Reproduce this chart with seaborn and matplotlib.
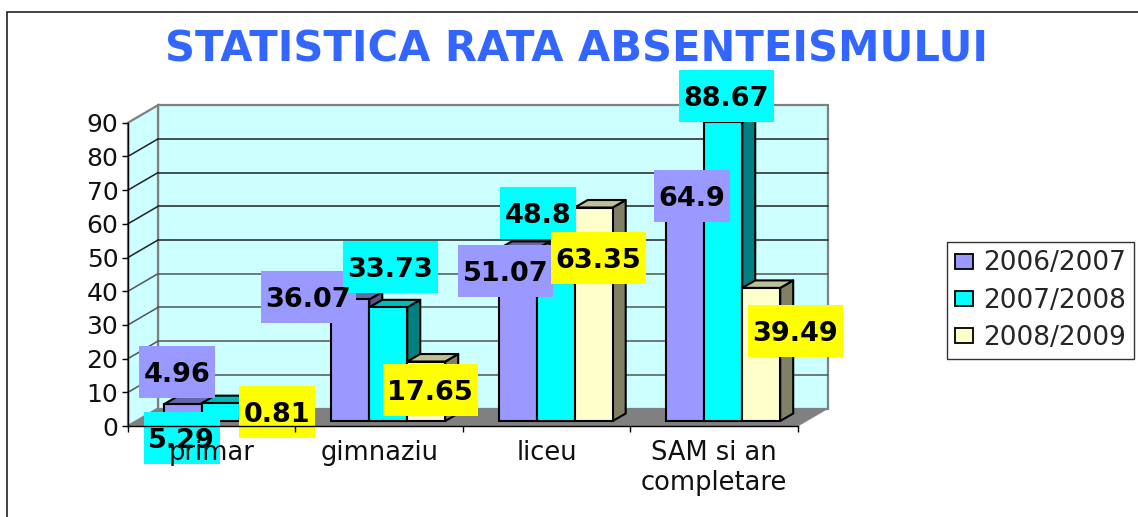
import matplotlib
matplotlib.use("Agg")
import matplotlib.pyplot as plt
from matplotlib.patches import Polygon, Rectangle
from matplotlib.transforms import IdentityTransform
import pandas as pd
import seaborn as sns

categories = ["primar", "gimnaziu", "liceu", "SAM si an\ncompletare"]
years = ["2006/2007", "2007/2008", "2008/2009"]
v_2006 = [4.96, 36.07, 51.07, 64.9]
v_2007 = [5.29, 33.73, 48.8, 88.67]
v_2008 = [0.81, 17.65, 63.35, 39.49]
title = "STATISTICA RATA ABSENTEISMULUI"

W, H = 1138, 517
faces = ["#9999FF", "#00FFFF", "#FFFFCC"]
tops = ["#6666AA", "#00BBBB", "#BFBF99"]
sides = ["#55558A", "#008080", "#808066"]
label_faces = ["#9999FF", "#00FFFF", "#FFFF00"]
# label centre offset from the bar's top centre, in pixels (right, up)
label_shift = [
    [(-6, 32), (-42, 2), (-12, -22), (7, 6)],
    [(-39, -35), (2, 40), (-18, 44), (3, 26)],
    [(18, 6), (4, -28), (5, -50), (34, -43)],
]

sns.set_style("white")
plt.rcParams["font.family"] = ["DejaVu Sans"]

fig = plt.figure(figsize=(W / 100, H / 100), dpi=100)
left, right, y_bot, y_top = 128, 798, 426, 122.7
ax = fig.add_axes([left / W, 1 - y_bot / H, (right - left) / W, (y_bot - y_top) / H])

df = pd.DataFrame({
    "cat": categories * 3,
    "year": [y for y in years for _ in categories],
    "val": v_2006 + v_2007 + v_2008,
})
sns.barplot(data=df, x="cat", y="val", hue="year", palette=faces, saturation=1,
            width=0.68, gap=0, edgecolor="black", linewidth=1.5, ax=ax, zorder=20)
ax.set_xlim(-0.5, 3.5)
ax.set_ylim(0, 90)
ax.set_xlabel("")
ax.set_ylabel("")

ux = (right - left) / 4      # pixels per category
uy = (y_bot - y_top) / 90    # pixels per value unit
wall_dx, wall_dy = 30 / ux, 17.5 / uy
bar_dx, bar_dy = 9 / ux, 5 / uy
deep_dx, deep_dy = 13 / ux, 7.5 / uy

x0, x1 = -0.5, 3.5
wall = "#CCFFFF"
grey = "#808080"
# walls and floor
ax.add_patch(Polygon([(x0 + wall_dx, wall_dy), (x1 + wall_dx, wall_dy),
                      (x1 + wall_dx, 90 + wall_dy), (x0 + wall_dx, 90 + wall_dy)],
                     fc=wall, ec=grey, lw=1.6, clip_on=False, zorder=1))
ax.add_patch(Polygon([(x0, 0), (x0 + wall_dx, wall_dy), (x0 + wall_dx, 90 + wall_dy), (x0, 90)],
                     fc=wall, ec=grey, lw=1.6, clip_on=False, zorder=1))
for v in range(10, 90, 10):
    c = "#222222" if v >= 50 else "#555555"
    ax.plot([x0 + wall_dx, x1 + wall_dx], [v + wall_dy] * 2, color=c, lw=1.1, clip_on=False, zorder=2)
    ax.plot([x0, x0 + wall_dx], [v, v + wall_dy], color=c, lw=1.1, clip_on=False, zorder=2)
ax.add_patch(Polygon([(x0, 0), (x1, 0), (x1 + wall_dx, wall_dy), (x0 + wall_dx, wall_dy)],
                     fc=grey, ec=grey, lw=0.5, clip_on=False, zorder=3))

# 3D bars: seaborn's bars, moved onto the floor, plus their top and side
for c in range(len(categories)):
    for h in range(len(years)):
        z = 10 + c * 10 + h * 3
        bar = ax.containers[h][c]
        bar.set_clip_on(False)
        bx = bar.get_x() + bar_dx
        bw = bar.get_width()
        bh = bar.get_height()
        bar.set_x(bx)
        bar.set_y(bar_dy)
        bar.set_zorder(z + 2)
        ex = bx + bw
        ty = bh + bar_dy
        ax.add_patch(Polygon([(ex, bar_dy), (ex + deep_dx, bar_dy + deep_dy),
                              (ex + deep_dx, ty + deep_dy), (ex, ty)],
                             fc=sides[h], ec="black", lw=1.5, clip_on=False, zorder=z, joinstyle="round"))
        ax.add_patch(Polygon([(bx, ty), (ex, ty), (ex + deep_dx, ty + deep_dy), (bx + deep_dx, ty + deep_dy)],
                             fc=tops[h], ec="black", lw=1.5, clip_on=False, zorder=z + 1, joinstyle="round"))

# axes, ticks
sns.despine(ax=ax, top=True, right=True)
for s in ("left", "bottom"):
    ax.spines[s].set_color("black")
    ax.spines[s].set_linewidth(1.0)
    ax.spines[s].set_zorder(100)
ax.set_yticks(range(0, 91, 10))
ax.set_xticks(range(4))
ax.set_xticklabels(categories)
ax.set_xticks([-0.5, 0.5, 1.5, 2.5, 3.5], minor=True)
ax.tick_params(axis="x", which="major", length=0, pad=10, labelsize=18.5, colors="#111111")
ax.tick_params(axis="x", which="minor", length=4.5, width=1, color="black", bottom=True)
ax.tick_params(axis="y", length=4, width=1, color="black", left=True, pad=3, labelsize=18, colors="#111111")
ax.xaxis.set_zorder(100)
ax.yaxis.set_zorder(100)
for t in ax.get_xticklabels():
    t.set_linespacing(1.2)

# value labels: coloured box plus bold text
series = [v_2006, v_2007, v_2008]
fig.canvas.draw()
for h, vals in enumerate(series):
    for c, v in enumerate(vals):
        bar = ax.containers[h][c]
        px, py = ax.transData.transform((bar.get_x() + bar.get_width() / 2, bar.get_y() + v))
        cx, cy = px + label_shift[h][c][0], py + label_shift[h][c][1]
        s = f"{v:g}"
        bw = 19 * len(s)
        ax.add_patch(Rectangle((cx - bw / 2, cy - 26), bw, 52, fc=label_faces[h], ec="none",
                               transform=IdentityTransform(), clip_on=False, zorder=60))
        ax.text(cx, cy, s, transform=IdentityTransform(), ha="center", va="center_baseline",
                fontsize=19.5, fontweight="bold", color="black", clip_on=False, zorder=61)

# legend
handles = [Rectangle((0, 0), 1, 1, fc=f, ec="black", lw=1.3) for f in faces]
if ax.get_legend():
    ax.get_legend().remove()
fig.legend(handles, years, loc="center", bbox_to_anchor=(1040.5 / W, 1 - 300.5 / H),
           frameon=True, fancybox=False, edgecolor="#333333", framealpha=1, fontsize=19,
           handlelength=0.68, handleheight=0.5, handletextpad=0.36, labelspacing=0.42,
           borderpad=0.32, borderaxespad=0)

# title and outer frame
fig.text(577 / W, 1 - 50 / H, title, ha="center", va="center", fontsize=30, fontweight="bold",
         color="#3366FF")
fig.add_artist(Rectangle((6.5 / W, -0.02), 1.1, 1 - 11.5 / H + 0.02, fill=False, ec="#222222", lw=1.2,
                         transform=fig.transFigure))

fig.savefig("out.png", dpi=100)
